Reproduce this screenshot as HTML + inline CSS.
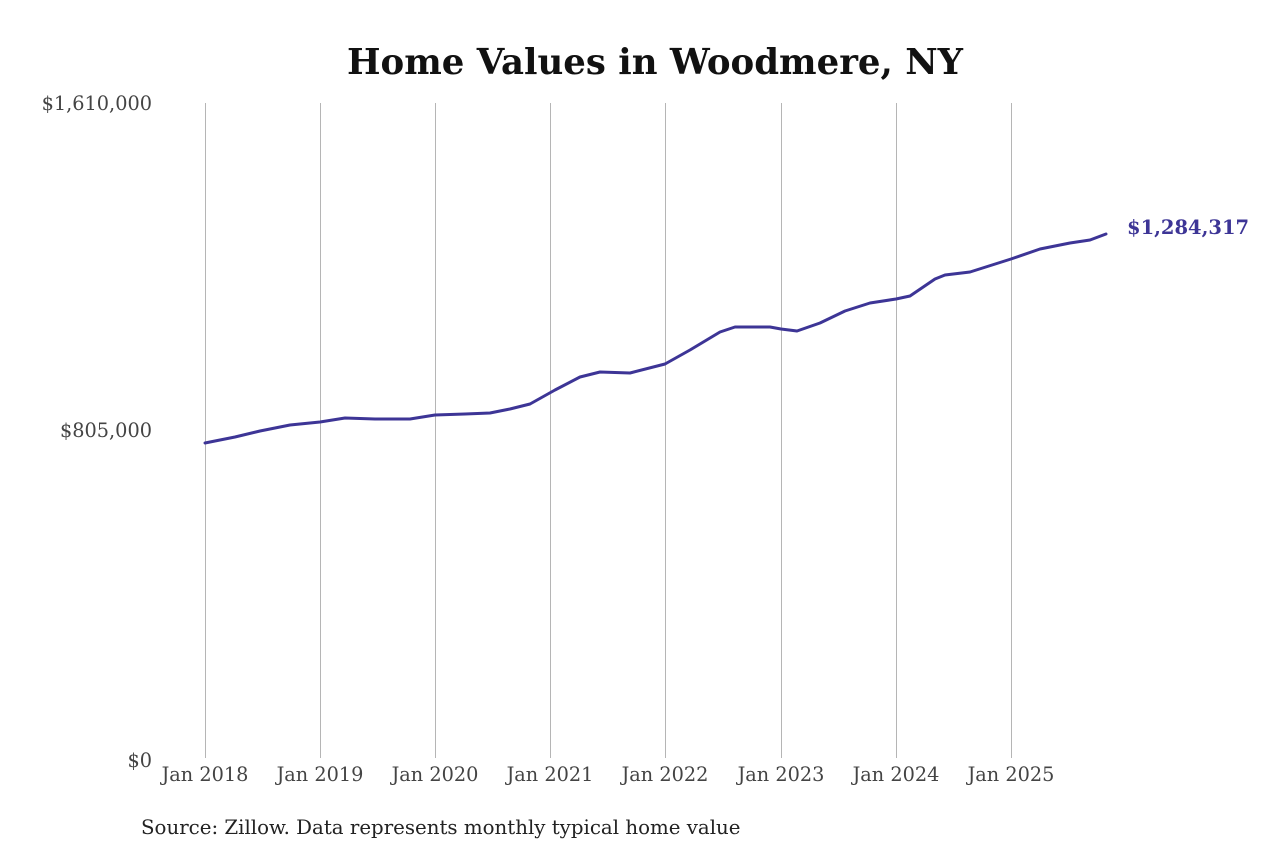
<!DOCTYPE html>
<html><head><meta charset="utf-8"><style>
html,body{margin:0;padding:0;background:#fff;}
svg{display:block;font-family:"DejaVu Serif","Liberation Serif",serif;}
</style></head><body>
<svg width="1280" height="853" viewBox="0 0 1280 853">
<text x="655" y="74" text-anchor="middle" font-size="35.5" font-weight="bold" fill="#111">Home Values in Woodmere, NY</text>
<g stroke="#b5b5b5" stroke-width="1">
<line x1="205.5" y1="103" x2="205.5" y2="758"/>
<line x1="320.5" y1="103" x2="320.5" y2="758"/>
<line x1="435.5" y1="103" x2="435.5" y2="758"/>
<line x1="550.5" y1="103" x2="550.5" y2="758"/>
<line x1="665.5" y1="103" x2="665.5" y2="758"/>
<line x1="781.5" y1="103" x2="781.5" y2="758"/>
<line x1="896.5" y1="103" x2="896.5" y2="758"/>
<line x1="1011.5" y1="103" x2="1011.5" y2="758"/>
</g>
<g font-size="19.3" fill="#444" text-anchor="end">
<text x="152" y="110">$1,610,000</text>
<text x="152" y="437">$805,000</text>
<text x="152" y="767">$0</text>
</g>
<g font-size="19.3" fill="#444" text-anchor="middle">
<text x="205" y="781">Jan 2018</text>
<text x="320" y="781">Jan 2019</text>
<text x="435" y="781">Jan 2020</text>
<text x="550" y="781">Jan 2021</text>
<text x="665" y="781">Jan 2022</text>
<text x="781" y="781">Jan 2023</text>
<text x="896" y="781">Jan 2024</text>
<text x="1011" y="781">Jan 2025</text>
</g>
<path fill="none" stroke="#3d3596" stroke-width="3" stroke-linejoin="round" stroke-linecap="round"
d="M205,443 L235,437 L260,431 L290,425 L320,422 L345,418 L375,419 L410,419 L435,415 L465,414 L490,413 L510,409 L530,404 L555,390 L580,377 L600,372 L630,373 L665,364 L690,350 L720,332 L735,327 L770,327 L781,329 L797,331 L820,323 L845,311 L870,303 L896,299 L910,296 L935,279 L945,275 L970,272 L1011,259 L1040,249 L1070,243 L1090,240 L1106,234"/>
<text x="1127" y="234" font-size="19.5" font-weight="bold" fill="#3d3596">$1,284,317</text>
<text x="141" y="834" font-size="19.8" fill="#222">Source: Zillow. Data represents monthly typical home value</text>
</svg>
</body></html>
